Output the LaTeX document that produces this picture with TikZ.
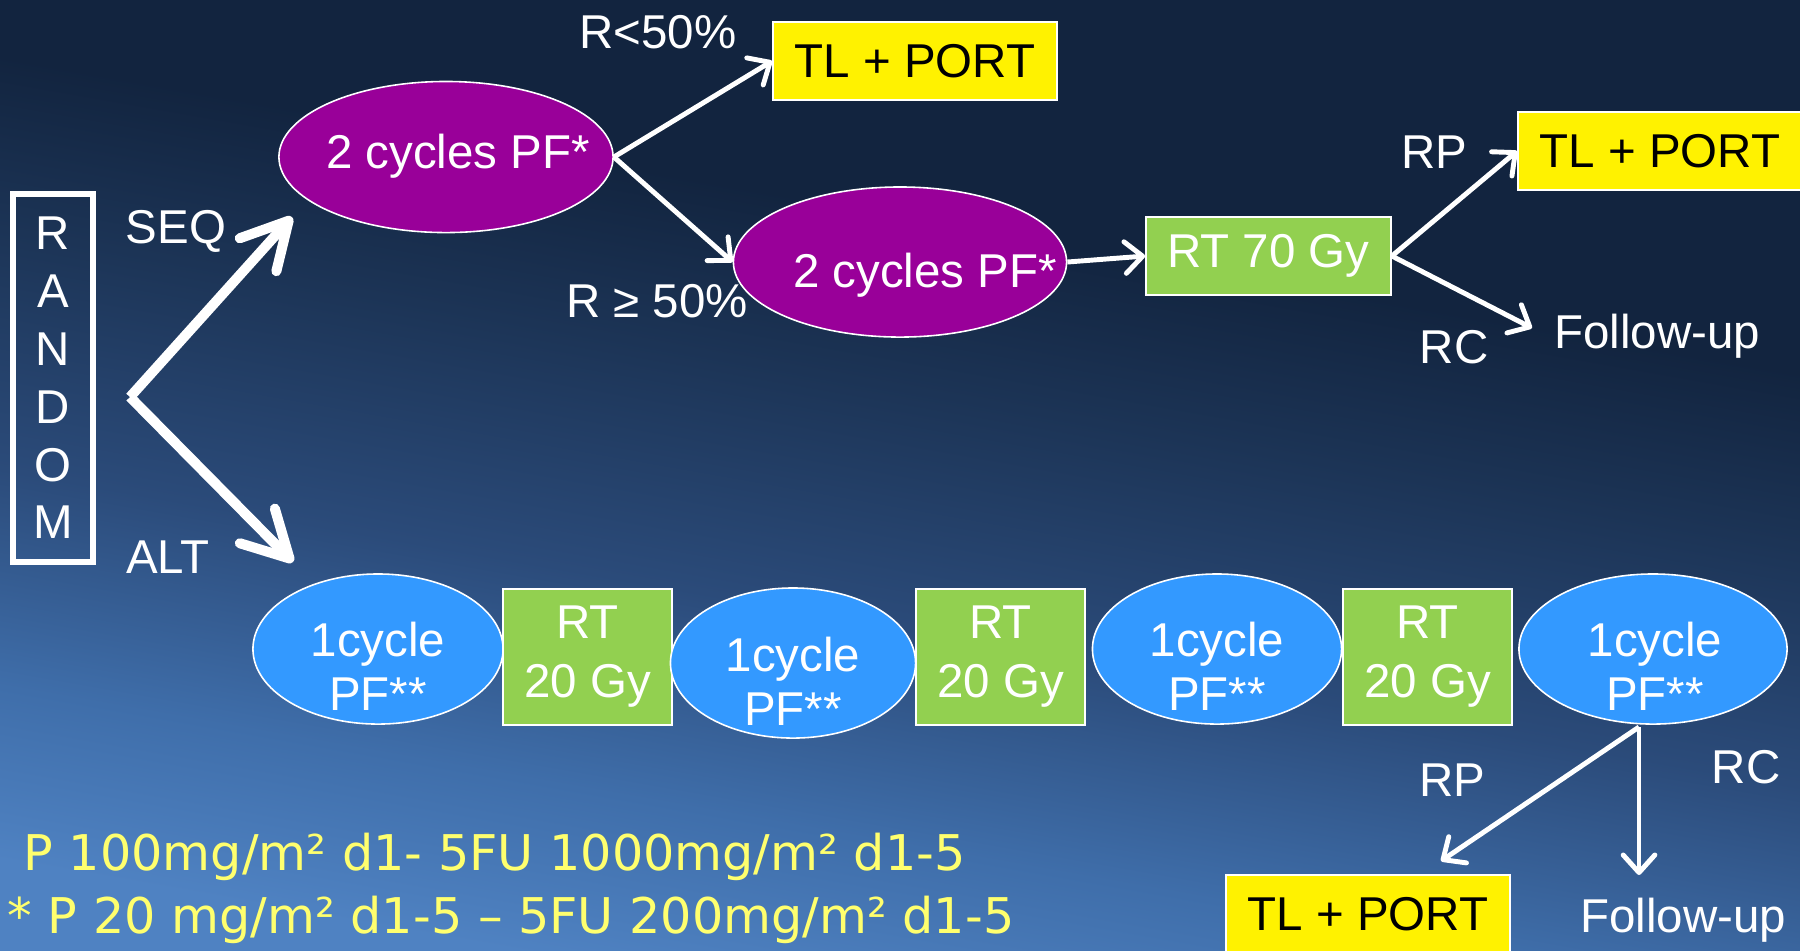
\documentclass[tikz,border=0pt]{standalone}
\usepackage{fontspec}
\setmainfont{Liberation Sans}
\newfontfamily\dosefamily{DejaVu Sans}
\usetikzlibrary{arrows.meta,shapes.geometric}

\definecolor{bgtop}{RGB}{18,36,63}
\definecolor{bgtwo}{RGB}{28,52,86}
\definecolor{bgthree}{RGB}{43,75,122}
\definecolor{bgfour}{RGB}{63,110,170}
\definecolor{bgbot}{RGB}{79,130,194}
\definecolor{pfpurple}{RGB}{153,0,153}
\definecolor{cycblue}{RGB}{51,153,255}
\definecolor{rtgreen}{RGB}{146,208,80}
\definecolor{doseyellow}{RGB}{255,255,110}

\pgfdeclareverticalshading{slidebg}{100bp}{color(0bp)=(bgbot); color(25bp)=(bgbot); color(33bp)=(bgfour); color(43bp)=(bgthree); color(54bp)=(bgtwo); color(62bp)=(bgtop); color(100bp)=(bgtop)}

\newcommand\slidefont{\fontsize{13.5pt}{16pt}\selectfont}
\newcommand\cycfont{\fontsize{13.5pt}{15.4pt}\selectfont}
\newcommand\rtfont{\fontsize{13.5pt}{16.8pt}\selectfont}
\newcommand\randfont{\fontsize{13.5pt}{16.44pt}\selectfont}

\begin{document}
\begin{tikzpicture}[x=0.01cm, y=-0.01cm,
  lbl/.style={text=white, font=\slidefont, inner sep=0pt},
  cyclbl/.style={text=white, font=\cycfont, align=center, inner sep=0pt},
  pfcyc/.style={ellipse, fill=pfpurple, draw=white, line width=0.45pt, inner sep=0pt},
  onecyc/.style={ellipse, fill=cycblue, draw=white, line width=0.45pt, inner sep=0pt, minimum height=1.5cm},
  rtbox/.style={rectangle, fill=rtgreen, draw=white, line width=0.45pt, text=white, font=\rtfont, align=center, inner sep=0pt},
  tlpbox/.style={rectangle, fill=yellow, draw=white, line width=0.45pt, text=black, font=\slidefont, minimum width=2.84cm, minimum height=0.78cm, inner sep=0pt},
  dose/.style={text=doseyellow, font=\dosefamily\fontsize{14pt}{16pt}\selectfont, inner sep=0pt, anchor=base west},
  flow/.style={draw=white, line width=1.4pt, -{Straight Barb[length=5pt,width=9pt,round]}},
  bigflow/.style={draw=white, line width=2.85pt, -{Straight Barb[length=13pt,width=14pt,round]}}]
\useasboundingbox (0,0) rectangle (1800,950);
\shade[shading=slidebg, shading angle=-10] (0,0) rectangle (1800,950);

% randomisation
\node[draw=white, line width=1.7pt, text=white, font=\randfont, align=center, minimum width=0.795cm, minimum height=3.675cm, inner sep=0pt] (rnd) at (53,378) {R\\A\\N\\D\\O\\M};
\coordinate (fork) at (130,397);
\coordinate (seqEnd) at (292,217);
\coordinate (altEnd) at (293,562);
\path (fork) edge[bigflow] (seqEnd);
\path (fork) edge[bigflow] (altEnd);
\node[lbl, anchor=base] (seq) at (176,243) {SEQ};
\node[lbl, anchor=base] (alt) at (168,573) {ALT};

% sequential arm
\node[pfcyc, minimum width=3.34cm, minimum height=1.51cm] (pf1) at (446,157) {};
\node[lbl, anchor=base] (pf1txt) at (458,168) {2 cycles PF*};
\node[tlpbox] (tlp1) at (915,61) {TL + PORT};
\node[lbl, anchor=base] (rlow) at (658,48) {R<50\%};
\node[pfcyc, minimum width=3.33cm, minimum height=1.50cm] (pf2) at (900,262) {};
\node[lbl, anchor=base] (pf2txt) at (925,287) {2 cycles PF*};
\node[lbl, anchor=base] (rhigh) at (657,317) {R ≥ 50\%};
\node[rtbox, minimum width=2.45cm, minimum height=0.78cm] (rt70) at (1268.5,256) {RT 70 Gy};
\node[tlpbox] (tlp2) at (1660,151) {TL + PORT};
\node[lbl, anchor=base] (rp1) at (1434,168) {RP};
\node[lbl, anchor=base] (rc1) at (1454,363) {RC};
\node[lbl, anchor=base] (fu1) at (1657,348) {Follow-up};
\coordinate (fu1In) at (1532,328);
\path (pf1.east) edge[flow] (tlp1.west);
\path (pf1.east) edge[flow] (pf2.west);
\path (pf2.east) edge[flow] (rt70.west);
\path (rt70.east) edge[flow] (tlp2.west);
\path (rt70.east) edge[flow] (fu1In);

% alternating arm
\node[onecyc, minimum width=2.50cm] (c1) at (378,649) {};
\node[cyclbl] (c1txt) at (378,666.5) {1cycle\\PF**};
\node[rtbox, minimum width=1.69cm, minimum height=1.36cm] (rt1) at (587.5,657) {RT\\20 Gy};
\node[onecyc, minimum width=2.45cm] (c2) at (793,663) {};
\node[cyclbl] (c2txt) at (793,681) {1cycle\\PF**};
\node[rtbox, minimum width=1.69cm, minimum height=1.36cm] (rt2) at (1000.5,657) {RT\\20 Gy};
\node[onecyc, minimum width=2.49cm] (c3) at (1217,649) {};
\node[cyclbl] (c3txt) at (1217,666.5) {1cycle\\PF**};
\node[rtbox, minimum width=1.69cm, minimum height=1.36cm] (rt3) at (1427.5,657) {RT\\20 Gy};
\node[onecyc, minimum width=2.68cm] (c4) at (1653,649) {};
\node[cyclbl] (c4txt) at (1655,666.5) {1cycle\\PF**};

\coordinate (split) at (1639,727);
\coordinate (rpEnd) at (1441,861);
\coordinate (rcEnd) at (1639,875);
\path (split) edge[flow] (rpEnd);
\path (split) edge[flow] (rcEnd);
\node[lbl, anchor=base] (rp2) at (1452,796) {RP};
\node[lbl, anchor=base] (rc2) at (1746,783) {RC};
\node[tlpbox] (tlp3) at (1368,914) {TL + PORT};
\node[lbl, anchor=base] (fu2) at (1683,932) {Follow-up};

% doses
\node[dose] (dose1) at (23,870) {P 100mg/m² d1- 5FU 1000mg/m² d1-5};
\node[dose] (dose2) at (7,933) {* P 20 mg/m² d1-5 – 5FU 200mg/m² d1-5};
\end{tikzpicture}
\end{document}
